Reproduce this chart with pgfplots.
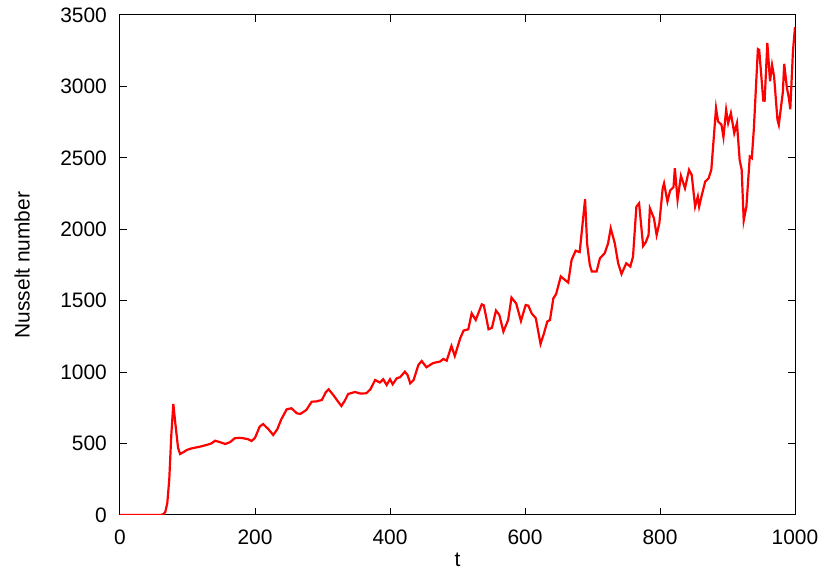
\documentclass[border=0pt]{standalone}
\usepackage{pgfplots}
\pgfplotsset{compat=1.18}
\usepackage{fontspec}
\setmainfont{Liberation Sans}

\pgfplotstableread{
t nu
0 0
60 0
64 5
67 20
70 80
73 250
76 560
79 777
82 640
86 470
89 427
94 440
99 455
105 465
111 471
120 480
128 490
135 500
141 520
148 510
156 497
163 510
170 537
177 540
183 537
190 530
195 518
200 540
207 619
212 637
220 600
227 560
233 600
239 670
247 740
254 747
262 712
267 707
276 735
284 793
291 795
299 805
305 860
309 880
316 840
322 800
328 763
333 800
338 847
348 861
356 850
365 852
371 880
378 945
385 927
390 950
395 910
400 950
404 915
410 957
415 965
422 1003
426 980
430 922
435 945
442 1050
447 1078
454 1034
464 1064
474 1074
479 1092
484 1080
491 1183
496 1113
504 1237
509 1291
516 1300
521 1412
527 1365
536 1475
539 1468
546 1300
551 1310
557 1431
562 1400
568 1284
575 1365
580 1522
587 1480
594 1358
601 1470
605 1465
610 1410
616 1378
623 1197
628 1270
633 1354
637 1365
642 1517
646 1545
653 1670
658 1650
664 1627
669 1785
675 1850
681 1840
689 2210
692 1900
696 1750
699 1704
706 1704
711 1797
718 1832
723 1900
727 2007
733 1902
738 1762
743 1687
750 1762
756 1739
760 1808
765 2158
769 2182
775 1883
779 1910
783 1960
785 2147
791 2077
795 1960
799 2042
804 2287
806 2322
811 2194
815 2271
820 2295
822 2427
826 2206
831 2374
837 2287
843 2416
847 2380
852 2159
856 2229
858 2159
862 2241
867 2334
872 2357
876 2416
883 2848
886 2755
891 2732
894 2645
898 2836
901 2743
905 2813
910 2673
914 2743
918 2486
921 2416
924 2061
928 2159
933 2509
936 2498
939 2700
945 3261
947 3255
953 2901
955 2900
959 3305
963 3036
966 3150
969 3070
974 2767
976 2731
982 2960
984 3158
988 2990
991 2917
993 2840
997 3250
1000 3415
}\nusselt

\begin{document}
\fontsize{21}{25}\selectfont
\begin{tikzpicture}
\begin{axis}[
    scale only axis,
    width=675bp,
    height=500bp,
    xmin=0, xmax=1000,
    ymin=0, ymax=3500,
    xtick={0,200,...,1000},
    ytick={0,500,...,3500},
    tick align=inside,
    major tick length=7bp,
    axis line style={line width=1bp},
    tick style={line width=1bp, black},
    /pgf/number format/assume math mode=true,
    /pgf/number format/set thousands separator={},
    ticklabel style={font=\fontsize{21}{25}\selectfont},
    xticklabel style={yshift=-8bp},
    yticklabel style={xshift=-6bp},
    label style={font=\fontsize{21}{25}\selectfont},
    xlabel={t},
    ylabel={Nusselt number},
    xlabel style={at={(axis description cs:0.5,-0.104)}, anchor=base},
    ylabel style={at={(axis description cs:-0.145,0.5)}, anchor=center},
]
\addplot[red, line width=2.2bp, no markers] table[x=t, y=nu] {\nusselt};
\end{axis}
\pgfresetboundingbox
\path (current axis.south west) ++(-120bp,-70bp) coordinate (bbA);
\path (current axis.north east) ++(35bp,15bp) coordinate (bbB);
\path[use as bounding box] (bbA) rectangle (bbB);
\end{tikzpicture}
\end{document}
